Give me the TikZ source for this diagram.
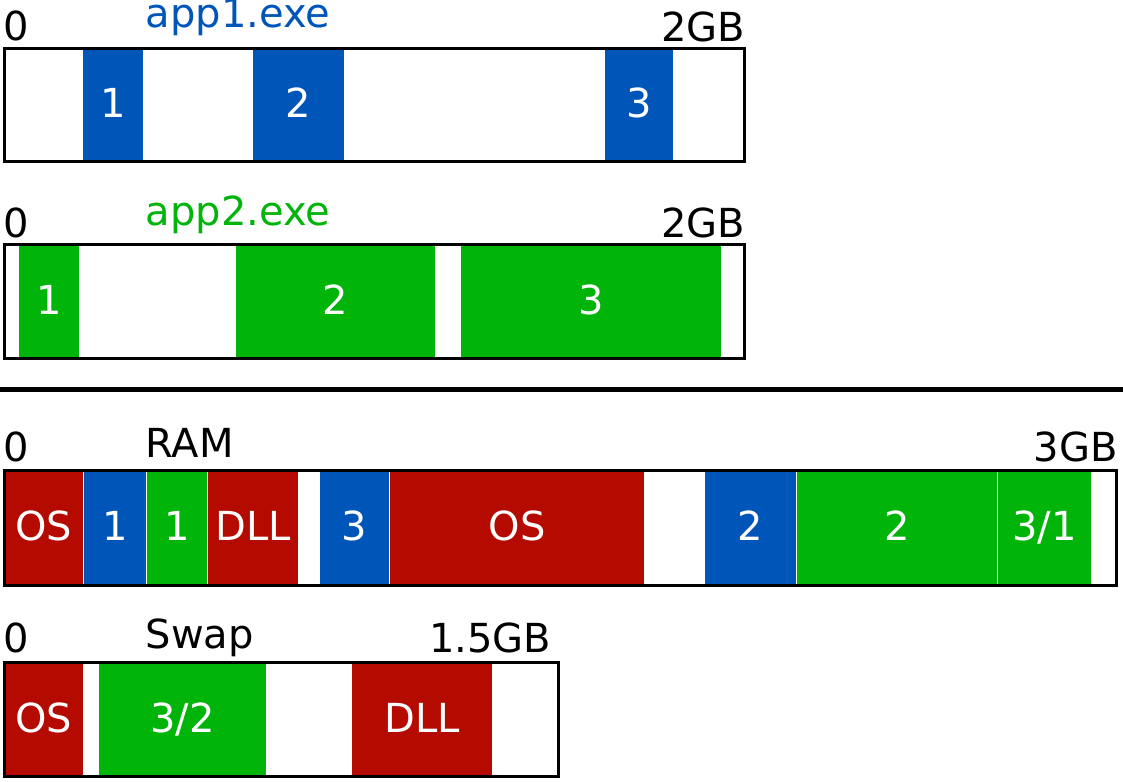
\documentclass[tikz,border=0pt]{standalone}
\usepackage{fontspec}
\setmainfont{DejaVu Sans}
\definecolor{mblue}{RGB}{0,85,185}
\definecolor{mgreen}{RGB}{0,180,10}
\definecolor{mred}{RGB}{180,10,0}
\newcommand\memblk[6]{%
  \fill[#2] (#3,#5+1.5) rectangle (#4,#5+115.5);
  \node[inlbl] (#1) at ({(#3+#4)/2},#5+71) {#6};}
\begin{document}
\begin{tikzpicture}[x=1pt,y=-1pt,
  lbl/.style={inner sep=0pt,font=\fontsize{40}{42}\selectfont},
  inlbl/.style={lbl,text=white,anchor=base},
  startlbl/.style={lbl,anchor=base west},
  endlbl/.style={lbl,anchor=base east},
  frame/.style={draw=black,line width=3pt}]
\useasboundingbox (0,0) rectangle (1123,781);
\fill[white] (0,0) rectangle (1123,781);

% ---- app1.exe ----
\memblk{a1}{mblue}{83}{143.3}{46.7}{1}
\memblk{a2}{mblue}{253.3}{343.7}{46.7}{2}
\memblk{a3}{mblue}{605}{672.7}{46.7}{3}
\draw[frame] (4.2,48.2) rectangle (744,161.8);
\node[startlbl] (a0) at (3.5,41) {0};
\node[startlbl,text=mblue] (atitle) at (145.5,28) {app1.exe};
\node[endlbl] (aend) at (745.5,41.5) {2GB};

% ---- app2.exe ----
\memblk{b1}{mgreen}{19}{79.3}{243.3}{1}
\memblk{b2}{mgreen}{236}{435}{243.3}{2}
\memblk{b3}{mgreen}{461}{721}{243.3}{3}
\draw[frame] (4.2,244.8) rectangle (744,358.8);
\node[startlbl] (b0) at (3.5,237.5) {0};
\node[startlbl,text=mgreen] (btitle) at (145.5,225) {app2.exe};
\node[endlbl] (bend) at (745.5,237.5) {2GB};

% ---- separator ----
\coordinate (sepl) at (0,389);
\coordinate (sepr) at (1123,389);
\draw[line width=5pt] (sepl) -- (sepr);

% ---- RAM ----
\memblk{r1}{mred}{4}{83.3}{469.3}{OS}
\memblk{r2}{mblue}{84.3}{145.7}{469.3}{1}
\memblk{r3}{mgreen}{146.7}{207.3}{469.3}{1}
\memblk{r4}{mred}{208.3}{297.7}{469.3}{DLL}
\memblk{r5}{mblue}{320}{389}{469.3}{3}
\memblk{r6}{mred}{390}{644.3}{469.3}{OS}
\memblk{r7}{mblue}{705}{795.7}{469.3}{2}
\memblk{r8}{mgreen}{797}{996.7}{469.3}{2}
\memblk{r9}{mgreen}{998}{1091.3}{469.3}{3/1}
\draw[frame] (4.2,470.8) rectangle (1116.8,585.8);
\node[startlbl] (r0) at (3.5,461) {0};
\node[startlbl] (rtitle) at (145.5,457) {RAM};
\node[endlbl] (rend) at (1118,461.5) {3GB};

% ---- Swap ----
\memblk{s1}{mred}{4}{83.3}{661}{OS}
\memblk{s2}{mgreen}{99}{265.7}{661}{3/2}
\memblk{s3}{mred}{352}{492.3}{661}{DLL}
\draw[frame] (4.2,662.5) rectangle (558.5,776.8);
\node[startlbl] (s0) at (3.5,652) {0};
\node[startlbl] (stitle) at (145.5,648) {Swap};
\node[endlbl] (send) at (551.5,652.7) {1.5GB};
\end{tikzpicture}
\end{document}
